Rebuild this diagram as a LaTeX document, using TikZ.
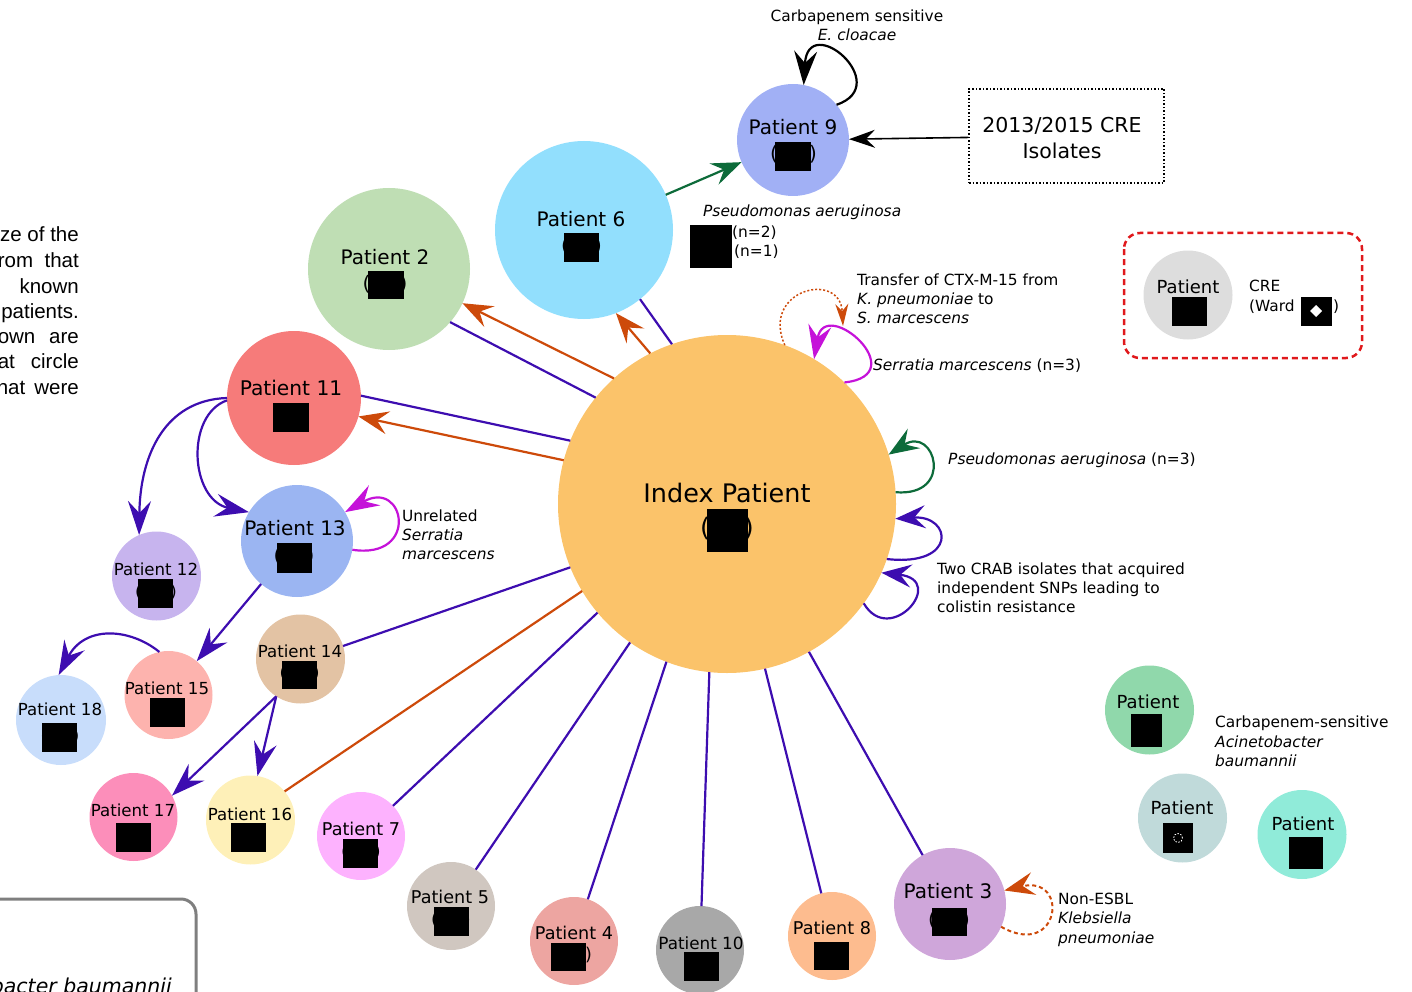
\documentclass[tikz,border=0pt]{standalone}
\usepackage{fontspec}
\setmainfont{DejaVu Sans}
\newfontfamily\arialfam{Liberation Sans}
\usetikzlibrary{arrows.meta}
\definecolor{cIdx}{HTML}{FBC36A}
\definecolor{c9}{HTML}{A1B0F5}
\definecolor{c6}{HTML}{92DFFD}
\definecolor{c2}{HTML}{BFDEB4}
\definecolor{c11}{HTML}{F67B7A}
\definecolor{c13}{HTML}{9BB5F2}
\definecolor{c12}{HTML}{C7B4EE}
\definecolor{c15}{HTML}{FDB3AE}
\definecolor{c14}{HTML}{E3C3A4}
\definecolor{c18}{HTML}{C8DDFB}
\definecolor{c17}{HTML}{FC8EBA}
\definecolor{c16}{HTML}{FEF0B8}
\definecolor{c7}{HTML}{FDB2FE}
\definecolor{c5}{HTML}{D0C7C0}
\definecolor{c4}{HTML}{EDA5A1}
\definecolor{c10}{HTML}{A8A8A8}
\definecolor{c8}{HTML}{FDBC8F}
\definecolor{c3}{HTML}{CFA6DA}
\definecolor{cLeg}{HTML}{DDDDDD}
\definecolor{cA}{HTML}{90D8AB}
\definecolor{cB}{HTML}{C0DADA}
\definecolor{cC}{HTML}{90EBD9}
\definecolor{purp}{HTML}{3D0DB0}
\definecolor{orng}{HTML}{CD4A0A}
\definecolor{grn}{HTML}{0D6B3A}
\definecolor{mag}{HTML}{C512D9}
\definecolor{legred}{HTML}{E0191C}
\definecolor{boxgray}{HTML}{7F7F7F}
\newcommand\fs[1]{\fontsize{#1}{#1}\selectfont}
\newcommand\redact[4]{\fill[black] (#1,#2) rectangle (#3,#4);}
\newcommand\prn[4]{\node[font=\fs{#4}, inner sep=0pt] at (#1,#2) {(\hspace{#3pt})};}
\tikzset{
  pat/.style={circle, inner sep=0pt, outer sep=0pt, draw=none},
  plab/.style={anchor=base, inner sep=0pt},
  txt/.style={anchor=base west, inner sep=0pt, font=\fs{15.4}},
  ln/.style={line width=2.2pt},
  arrS/.style={-{Stealth[length=30pt,width=23pt,inset=11pt]}},
  arrL/.style={-{Stealth[length=34pt,width=23pt,inset=12pt]}},
  arrSm/.style={-{Stealth[length=22pt,width=13pt,inset=7pt]}},
}
\begin{document}
\begin{tikzpicture}[x=1pt,y=-1pt]
\useasboundingbox (0,0) rectangle (1412,992);

% ---------- patient circles ----------
\node[pat, fill=cIdx, minimum size=338pt] (Idx) at (727,504) {};
\node[pat, fill=c9,  minimum size=112pt] (P9)  at (793,140) {};
\node[pat, fill=c6,  minimum size=178pt] (P6)  at (584,230) {};
\node[pat, fill=c2,  minimum size=162pt] (P2)  at (389,269) {};
\node[pat, fill=c11, minimum size=134pt] (P11) at (294,398) {};
\node[pat, fill=c13, minimum size=112pt] (P13) at (297,541) {};
\node[pat, fill=c12, minimum size=89pt]  (P12) at (156.5,576) {};
\node[pat, fill=c15, minimum size=88pt]  (P15) at (168.5,695) {};
\node[pat, fill=c14, minimum size=89pt]  (P14) at (300.5,659) {};
\node[pat, fill=c18, minimum size=90pt]  (P18) at (61,720) {};
\node[pat, fill=c17, minimum size=88pt]  (P17) at (133.5,817) {};
\node[pat, fill=c16, minimum size=89pt]  (P16) at (250.5,820) {};
\node[pat, fill=c7,  minimum size=88pt]  (P7)  at (361,836) {};
\node[pat, fill=c5,  minimum size=88pt]  (P5)  at (451,906) {};
\node[pat, fill=c4,  minimum size=88pt]  (P4)  at (574,941) {};
\node[pat, fill=c10, minimum size=88pt]  (P10) at (700,950) {};
\node[pat, fill=c8,  minimum size=88pt]  (P8)  at (832,936) {};
\node[pat, fill=c3,  minimum size=112pt] (P3)  at (950,904) {};
\node[pat, fill=cLeg, minimum size=89pt] (PL)  at (1188,295) {};
\node[pat, fill=cA,  minimum size=89pt]  (PA)  at (1149.5,710) {};
\node[pat, fill=cB,  minimum size=89pt]  (PB)  at (1182.5,818) {};
\node[pat, fill=cC,  minimum size=89pt]  (PC)  at (1302,834.5) {};

% CRE isolates box
\node[draw, dotted, line width=1.5pt, minimum width=195pt, minimum height=94pt, inner sep=0pt] (CRE) at (1066.5,136) {};
\node[plab, font=\fs{20.5}] (CREa) at (1062,133) {2013/2015 CRE};
\node[plab, font=\fs{20.5}] (CREb) at (1062,159) {Isolates};

% legend box
\draw[legred, line width=2.5pt, dash pattern=on 6pt off 4pt, rounded corners=16pt] (1124,233) rectangle (1362,358);

% bottom-left box fragment
\draw[boxgray, line width=3pt, rounded corners=15pt] (-20,899) -- (196,899) -- (196,1040);
\node[anchor=base east, inner sep=0pt, font=\fs{20.5}\itshape] (bl) at (172,993) {bacter baumannii};

% ---------- edges ----------
\draw[ln, orng, arrS] (Idx.132) -- (P2.-25);
\draw[ln, purp] (Idx.141) -- (P2.-41);
\draw[ln, orng, arrS] (Idx.117) -- (P6.-69);
\draw[ln, purp] (Idx.109) -- (P6.-51);
\draw[ln, purp] (Idx.158) -- (P11.2);
\draw[ln, orng, arrS] (Idx.165) -- (P11.-16);
\draw[ln, grn, arrS] (P6) -- (P9);
\draw[line width=1.6pt, black, -{Stealth[length=26pt,width=18pt,inset=9pt]}] (CRE) -- (P9);

\draw[ln, purp] (Idx.202) -- (P14.17);
\draw[ln, orng] (Idx.211) -- (P16.40);
\draw[ln, purp] (Idx.220.5) -- (P7);
\draw[ln, purp] (Idx.235) -- (P5);
\draw[ln, purp] (Idx.249) -- (P4);
\draw[ln, purp] (Idx.264) -- (P10);
\draw[ln, purp] (Idx.283) -- (P8);
\draw[ln, purp] (Idx.299) -- (P3);

\draw[ln, purp, arrL] (P11.180) .. controls (165,400) and (140,455) .. (P12.113);
\draw[ln, purp, arrL] (P11.182) .. controls (185,415) and (190,500) .. (P13.149);
\draw[ln, purp, arrL] (P13) -- (P15);
\draw[ln, purp, arrL] (P15.102) .. controls (130,628) and (85,625) .. (P18.93);
\draw[ln, purp, arrL] (P14.237) -- (P17.29);
\draw[ln, purp, arrL] (P14.237) -- (P16.81);

% self loops
\draw[ln, black, arrL] (P9.39) .. controls (895,85) and (808,10) .. (P9.79);
\coordinate (ctx) at (843,326);
\draw[line width=1.5pt, orng, dash pattern=on 2pt off 2pt, arrSm] (Idx.70.5) .. controls (760,290) and (840,270) .. (ctx);
\draw[ln, mag, arrL] (Idx.46) .. controls (915,375) and (825,295) .. (Idx.59);
\draw[ln, grn, arrS] (Idx.4.4) .. controls (955,497) and (935,425) .. (Idx.17.6);
\draw[ln, purp, arrS] (Idx.-19) .. controls (958,567) and (952,515) .. (Idx.-5);
\draw[ln, purp, arrS] (Idx.-36.5) .. controls (890,648) and (948,580) .. (Idx.-24);
\draw[ln, mag, arrL] (P13.-9) .. controls (420,560) and (405,478) .. (P13.31);
\draw[line width=2pt, orng, dash pattern=on 4pt off 3pt, arrS] (P3.-24.4) .. controls (1060,960) and (1070,875) .. (P3.14.5);

% ---------- patient labels ----------
\node[plab, font=\fs{25.5}] (tIdx) at (727,502) {Index Patient};
\node[plab, font=\fs{20}] (t9)  at (793,135) {Patient 9};
\node[plab, font=\fs{20}] (t6)  at (581,226) {Patient 6};
\node[plab, font=\fs{20}] (t2)  at (385,265) {Patient 2};
\node[plab, font=\fs{20.2}] (t11) at (291,395) {Patient 11};
\node[plab, font=\fs{20}] (t13) at (295,535) {Patient 13};
\node[plab, font=\fs{16.6}] (t12) at (156,575) {Patient 12};
\node[plab, font=\fs{16.6}] (t15) at (167,694) {Patient 15};
\node[plab, font=\fs{16.6}] (t14) at (300,657) {Patient 14};
\node[plab, font=\fs{16.6}] (t18) at (60,715) {Patient 18};
\node[plab, font=\fs{16.6}] (t17) at (133,816) {Patient 17};
\node[plab, font=\fs{16.6}] (t16) at (250,820) {Patient 16};
\node[plab, font=\fs{17.6}] (t7)  at (361,835) {Patient 7};
\node[plab, font=\fs{17.6}] (t5)  at (450,903) {Patient 5};
\node[plab, font=\fs{17.6}] (t4)  at (574,939) {Patient 4};
\node[plab, font=\fs{16.8}] (t10) at (701,949) {Patient 10};
\node[plab, font=\fs{17.6}] (t8)  at (832,934) {Patient 8};
\node[plab, font=\fs{20}] (t3)  at (948,898) {Patient 3};
\node[plab, font=\fs{18}] (tL)  at (1188,293) {Patient};
\node[plab, font=\fs{18}] (tA)  at (1148,708) {Patient};
\node[plab, font=\fs{18}] (tB)  at (1182,814) {Patient};
\node[plab, font=\fs{18}] (tC)  at (1303,830) {Patient};

% parentheses
\prn{727}{529}{34}{25.5}
\prn{793.5}{154}{31}{20}
\prn{581.5}{246}{25}{20}
\prn{385}{284}{29}{20}
\prn{294}{556}{25}{20}
\prn{156}{592}{29}{16.6}
\prn{299.7}{673}{27}{16.6}
\prn{60}{736}{26}{16.6}
\prn{250}{836}{22}{16.6}
\prn{361}{852}{26}{17.6}
\prn{451}{920}{26}{17.6}
\prn{572}{955}{26}{17.6}
\prn{949}{920}{26}{20}

% redaction boxes
\redact{707}{509}{748}{552}
\redact{775}{142}{811}{171}
\redact{564}{233}{599}{262}
\redact{368}{271}{404}{299}
\redact{273}{403}{309}{432}
\redact{277}{543}{312}{573}
\redact{138}{579}{173}{608}
\redact{150}{698}{185}{727}
\redact{282}{661}{317}{689}
\redact{42}{723}{77}{752}
\redact{116}{823}{151}{852}
\redact{231}{823}{266}{852}
\redact{343}{839}{378}{868}
\redact{434}{907}{469}{936}
\redact{551}{943}{586}{971}
\redact{684}{952}{719}{981}
\redact{814}{942}{849}{970}
\redact{932}{908}{967}{936}
\redact{1172}{297}{1207}{326}
\redact{1301}{297}{1332}{326}
\redact{1131}{714}{1162}{747}
\redact{1163}{823}{1193}{853}
\redact{1289}{837}{1323}{869}
\redact{690}{225}{732}{268}
\fill[white] (1316,305) -- (1322,311) -- (1316,317) -- (1310,311) -- cycle;
\draw[white, line width=0.8pt, dash pattern=on 1.5pt off 1.5pt] (1178,838) circle (4.5pt);

% ---------- annotations ----------
\node[plab, font=\fs{15.4}] (la1) at (857,22) {Carbapenem sensitive};
\node[plab, font=\fs{15.4}\itshape] (la2) at (857,41) {E. cloacae};

\node[txt, font=\fs{15.4}\itshape] (lb1) at (703,217) {Pseudomonas aeruginosa};
\node[txt] (lb2) at (732,237) {(n=2)};
\node[txt] (lb3) at (734,256) {(n=1)};

\node[txt] (lc1) at (857,285) {Transfer of CTX-M-15 from};
\node[txt] (lc2) at (857,304) {\textit{K. pneumoniae} to};
\node[txt] (lc3) at (857,323) {\textit{S. marcescens}};

\node[txt] (ld) at (873,370) {\textit{Serratia marcescens} (n=3)};
\node[txt] (le) at (948,464) {\textit{Pseudomonas aeruginosa} (n=3)};

\node[txt] (lf1) at (937,574) {Two CRAB isolates that acquired};
\node[txt] (lf2) at (937,593) {independent SNPs leading to};
\node[txt] (lf3) at (937,612) {colistin resistance};

\node[txt] (lg1) at (402,521) {Unrelated};
\node[txt] (lg2) at (402,540) {\textit{Serratia}};
\node[txt] (lg3) at (402,559) {\textit{marcescens}};

\node[txt] (lh1) at (1058,904) {Non-ESBL};
\node[txt] (lh2) at (1058,923) {\textit{Klebsiella}};
\node[txt] (lh3) at (1058,943) {\textit{pneumoniae}};

\node[txt] (li1) at (1215,727) {Carbapenem-sensitive};
\node[txt] (li2) at (1215,747) {\textit{Acinetobacter}};
\node[txt] (li3) at (1215,766) {\textit{baumannii}};

\node[txt] (lj1) at (1249,291) {CRE};
\node[txt] (lj2) at (1249,311) {(Ward};
\node[txt] (lj3) at (1333,311) {)};

% left paragraph fragment
\node[anchor=base east, inner sep=0pt, font=\arialfam\fs{20.5}] (p1) at (79,242) {ze of the};
\node[anchor=base east, inner sep=0pt, font=\arialfam\fs{20.5}] (p2) at (79,267) {\hbox to 81pt{rom\hfill that}};
\node[anchor=base east, inner sep=0pt, font=\arialfam\fs{20.5}] (p3) at (79,293) {known};
\node[anchor=base east, inner sep=0pt, font=\arialfam\fs{20.5}] (p4) at (79,318) {patients.};
\node[anchor=base east, inner sep=0pt, font=\arialfam\fs{20.5}] (p5) at (79,343) {\hbox to 81pt{own\hfill are}};
\node[anchor=base east, inner sep=0pt, font=\arialfam\fs{20.5}] (p6) at (79,368) {\hbox to 81pt{at\hfill circle}};
\node[anchor=base east, inner sep=0pt, font=\arialfam\fs{20.5}] (p7) at (79,394) {\hbox to 82pt{hat\hfill were}};
\end{tikzpicture}
\end{document}
